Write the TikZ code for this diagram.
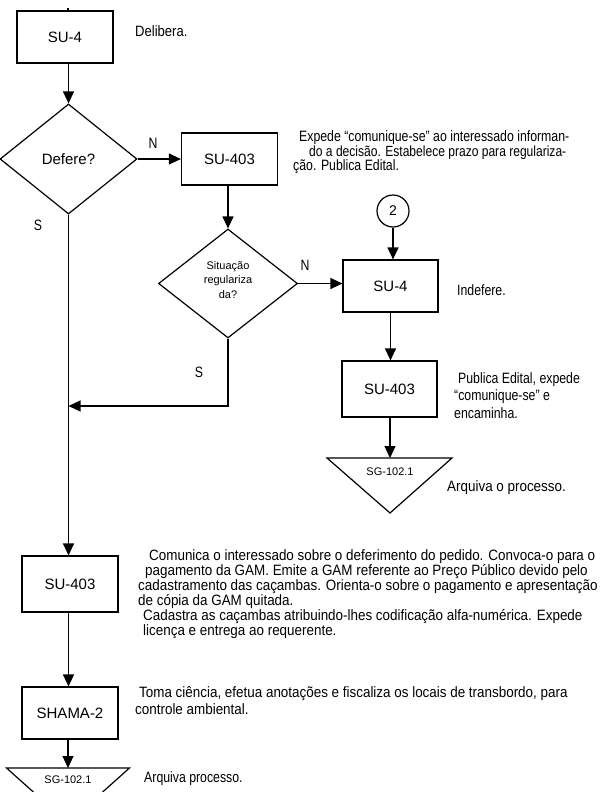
\documentclass[tikz,border=0pt]{standalone}
\usepackage{fontspec}
\setmainfont{Liberation Sans}
\newfontfamily\narrow{Liberation Sans}[FakeStretch=0.82]
\newfontfamily\narrowwide{Liberation Sans}[FakeStretch=0.895]
\newfontfamily\narrowmid{Liberation Sans}[FakeStretch=0.87]
\usetikzlibrary{shapes.geometric,arrows.meta}
\tikzset{
  box/.style={draw, line width=1.2pt, rectangle, minimum width=96pt, minimum height=52pt, inner sep=0pt, font=\fontsize{15}{15}\selectfont},
  dia/.style={draw, line width=1.2pt, diamond, inner sep=0pt, font=\fontsize{15}{15}\selectfont},
  conn/.style={line width=1.2pt},
  arr/.style={line width=1.2pt, -{Triangle[length=12pt,width=11pt]}},
  desc/.style={anchor=base west, inner sep=0pt, font=\narrow\fontsize{15}{15}\selectfont},
  descw/.style={anchor=base west, inner sep=0pt, font=\narrowwide\fontsize{15}{15}\selectfont},
  descm/.style={anchor=base west, inner sep=0pt, font=\narrowmid\fontsize{15}{15}\selectfont},
  lbl/.style={inner sep=0pt, font=\narrow\fontsize{15}{15}\selectfont},
  small/.style={inner sep=0pt, font=\fontsize{11}{14.5}\selectfont, align=center},
  tri/.style={draw, line width=1.2pt, line join=miter}
}
\begin{document}
\begin{tikzpicture}[x=1pt,y=-1pt]
\useasboundingbox (0,0) rectangle (601,792);

% main column
\coordinate (top) at (68,8);
\node[box] (b1) at (65,37) {SU-4};
\node[dia, minimum width=137pt, minimum height=110pt] (d1) at (68.5,159) {Defere?};
\node[box, minimum height=56pt] (b5) at (70,584) {SU-403};
\node[box] (b6) at (70,713) {SHAMA-2};
\coordinate (t2top) at (68,768);
\draw[tri] (6.5,768) -- (129.5,768) -- (68,823) -- cycle;
\node[small, font=\fontsize{11}{11}\selectfont] (t2) at (68,780) {SG-102.1};

% branch
\node[box] (b2) at (229.5,159) {SU-403};
\node[dia, minimum width=139pt, minimum height=109pt] (d2) at (228,283.5) {};
\node[small] (d2t) at (228,280) {Situação\\regulariza\\da?};
\coordinate (join) at (228,406);
\node[draw, line width=1.2pt, circle, minimum size=32pt, inner sep=0pt, font=\fontsize{14}{14}\selectfont] (c) at (393,211) {2};
\node[box, minimum width=95pt] (b3) at (390.5,286) {SU-4};
\node[box, minimum width=95pt, minimum height=56pt] (b4) at (389.5,389) {SU-403};
\coordinate (t1top) at (390,458);
\draw[tri] (327,458) -- (452,458) -- (390,513) -- cycle;
\node[small, font=\fontsize{11}{11}\selectfont] (t1) at (390,472) {SG-102.1};

% connectors
\draw[conn] (top) -- (top |- b1.north);
\draw[arr] (d1.north |- b1.south) -- (d1.north);
\draw[arr] (d1.east) -- (b2.west);
\draw[arr] (b2.south -| d2.north) -- (d2.north);
\draw[arr] (d1.south) -- (d1.south |- b5.north);
\draw[arr] (d2.south) -- (join) -- (join -| d1.south);
\draw[arr] (d2.east) -- (d2.east -| b3.west);
\draw[arr] (c.south) -- (c.south |- b3.north);
\draw[arr] (b3.south) -- (b3.south |- b4.north);
\draw[arr] (b4.south -| t1top) -- (t1top);
\draw[arr] (b5.south -| d1.south) -- (d1.south |- b6.north);
\draw[arr] (b6.south -| t2top) -- (t2top);

% branch labels
\node[lbl] (n1) at (153,143) {N};
\node[lbl] (s1) at (38,225) {S};
\node[lbl] (n2) at (305,265) {N};
\node[lbl] (s2) at (199,372) {S};

% descriptions
\node[descm] (x1) at (135,37) {Delibera.};
\node[desc] (x2a) at (299,141) {Expede “comunique-se” ao interessado informan-};
\node[desc, font=\narrow\fontsize{14.7}{15}\selectfont] (x2b) at (309,156) {do a decisão. Estabelece prazo para regulariza-};
\node[desc] (x2c) at (293,170) {ção. Publica Edital.};
\node[desc] (x3) at (457,295) {Indefere.};
\node[desc] (x4a) at (458,383) {Publica Edital, expede};
\node[desc] (x4b) at (454,400) {“comunique-se” e};
\node[desc] (x4c) at (454,418) {encaminha.};
\node[descw] (x5) at (447,491) {Arquiva o processo.};
\node[descw] (x6a) at (149,560) {Comunica o interessado sobre o deferimento do pedido. Convoca-o para o};
\node[descw] (x6b) at (145,575) {pagamento da GAM. Emite a GAM referente ao Preço Público devido pelo};
\node[descw] (x6c) at (138,590) {cadastramento das caçambas. Orienta-o sobre o pagamento e apresentação};
\node[descw] (x6d) at (138,605) {de cópia da GAM quitada.};
\node[descw] (x6e) at (143,620) {Cadastra as caçambas atribuindo-lhes codificação alfa-numérica. Expede};
\node[descw] (x6f) at (143,635) {licença e entrega ao requerente.};
\node[descw] (x7a) at (139,697) {Toma ciência, efetua anotações e fiscaliza os locais de transbordo, para};
\node[descw] (x7b) at (135,714) {controle ambiental.};
\node[desc] (x8) at (144,782) {Arquiva processo.};
\end{tikzpicture}
\end{document}
